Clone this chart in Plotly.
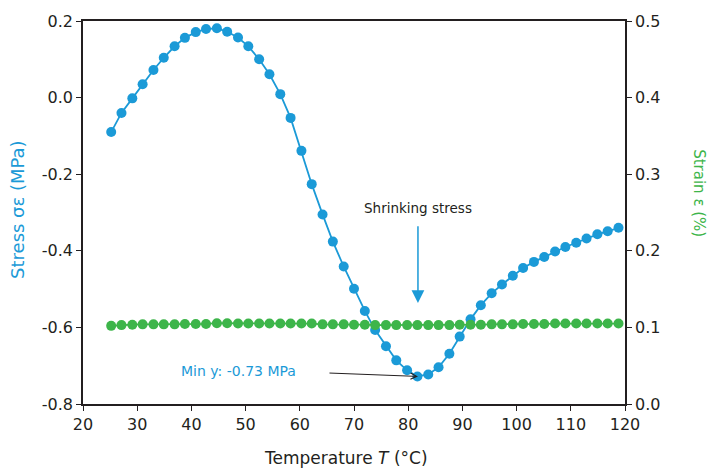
import plotly.graph_objects as go

temperature = [25.2, 27.1, 29.1, 31.0, 33.0, 34.9, 36.9, 38.8, 40.8, 42.7, 44.7, 46.6,
               48.6, 50.5, 52.5, 54.4, 56.4, 58.3, 60.3, 62.2, 64.2, 66.1, 68.1, 70.0,
               72.0, 73.9, 75.9, 77.8, 79.8, 81.7, 83.7, 85.6, 87.6, 89.5, 91.5, 93.4,
               95.4, 97.3, 99.3, 101.2, 103.2, 105.1, 107.1, 109.0, 111.0, 112.9, 114.9,
               116.8, 118.8]
stress = [-0.090, -0.040, -0.002, 0.035, 0.072, 0.104, 0.134, 0.156, 0.171, 0.179, 0.181,
          0.172, 0.157, 0.134, 0.100, 0.061, 0.009, -0.053, -0.139, -0.226, -0.305, -0.376,
          -0.441, -0.499, -0.557, -0.607, -0.649, -0.686, -0.712, -0.728, -0.723, -0.704,
          -0.669, -0.624, -0.579, -0.542, -0.511, -0.488, -0.465, -0.445, -0.429, -0.416,
          -0.402, -0.390, -0.379, -0.368, -0.357, -0.349, -0.340]
strain = [0.102, 0.103, 0.1035, 0.104, 0.104, 0.104, 0.104, 0.1045, 0.1045, 0.1045, 0.1055,
          0.1055, 0.105, 0.105, 0.105, 0.105, 0.105, 0.105, 0.105, 0.105, 0.104, 0.104, 0.104,
          0.1035, 0.1035, 0.103, 0.103, 0.103, 0.103, 0.103, 0.103, 0.103, 0.103, 0.1035,
          0.1035, 0.1035, 0.104, 0.104, 0.104, 0.1045, 0.1045, 0.1045, 0.105, 0.105, 0.105,
          0.105, 0.105, 0.105, 0.105]

x_ticks = [20, 30, 40, 50, 60, 70, 80, 90, 100, 110, 120]
y1_ticks = [0.2, 0.0, -0.2, -0.4, -0.6, -0.8]
y1_labels = ["0.2", "0.0", "-0.2", "-0.4", "-0.6", "-0.8"]
y2_ticks = [0.0, 0.1, 0.2, 0.3, 0.4, 0.5]
y2_labels = ["0.0", "0.1", "0.2", "0.3", "0.4", "0.5"]

BLUE = "#1b9ad7"
GREEN = "#3db54a"
INK = "#231f20"
FONT = "DejaVu Sans"

fig = go.Figure()
fig.add_trace(go.Scatter(x=temperature, y=stress, mode="lines+markers",
                         line=dict(color=BLUE, width=1.8),
                         marker=dict(color=BLUE, size=10), yaxis="y", showlegend=False))
fig.add_trace(go.Scatter(x=temperature, y=strain, mode="lines+markers",
                         line=dict(color=GREEN, width=1.8),
                         marker=dict(color=GREEN, size=10), yaxis="y2", showlegend=False))

axis_common = dict(showline=True, linecolor=INK, linewidth=1.6, ticks="outside",
                   ticklen=5, tickwidth=1.4, tickcolor=INK, showgrid=False, zeroline=False,
                   tickfont=dict(family=FONT, size=16, color=INK))

fig.update_layout(
    width=709, height=473,
    margin=dict(l=83, r=84, t=15, b=69),
    paper_bgcolor="white", plot_bgcolor="white",
    font=dict(family=FONT, color=INK),
    xaxis=dict(range=[20, 120], tickvals=x_ticks, mirror=True, **axis_common),
    yaxis=dict(range=[-0.8, 0.2], tickvals=y1_ticks, ticktext=y1_labels, **axis_common),
    yaxis2=dict(range=[0.0, 0.5], tickvals=y2_ticks, ticktext=y2_labels, overlaying="y",
                side="right", **axis_common),
)

centered = dict(xanchor="center", yanchor="middle", showarrow=False)
annotations = [
    dict(text="Temperature <i>T</i> (°C)", xref="paper", yref="paper", x=0.486, y=-0.142,
         font=dict(family=FONT, size=17, color=INK), **centered),
    dict(text="Stress σε (MPa)", xref="paper", yref="paper", x=-0.122, y=0.509,
         textangle=-90, font=dict(family=FONT, size=18, color=BLUE), **centered),
    dict(text="Strain ε (%)", xref="paper", yref="paper", x=1.135, y=0.55,
         textangle=90, font=dict(family=FONT, size=15, color=GREEN), **centered),
    dict(text="Shrinking stress", xref="x", yref="y", x=81.8, y=-0.288,
         font=dict(family=FONT, size=13.5, color=INK), **centered),
    dict(text="", xref="x", yref="y", x=81.8, y=-0.536, ax=81.8, ay=-0.332,
         axref="x", ayref="y", showarrow=True, arrowhead=2, arrowsize=1.7,
         arrowwidth=1.5, arrowcolor=BLUE),
    dict(text="Min y: -0.73 MPa", xref="x", yref="y", x=48.6, y=-0.713,
         font=dict(family=FONT, size=14, color=BLUE), **centered),
    dict(text="", xref="x", yref="y", x=81.8, y=-0.728, ax=65.2, ay=-0.719,
         axref="x", ayref="y", showarrow=True, arrowhead=5, arrowsize=1.2,
         arrowwidth=1, arrowcolor=INK),
]
fig.update_layout(annotations=annotations)

fig.write_html("out.html", config={"displayModeBar": False},
               post_script="document.body.style.margin='0';document.body.style.padding='0';")
